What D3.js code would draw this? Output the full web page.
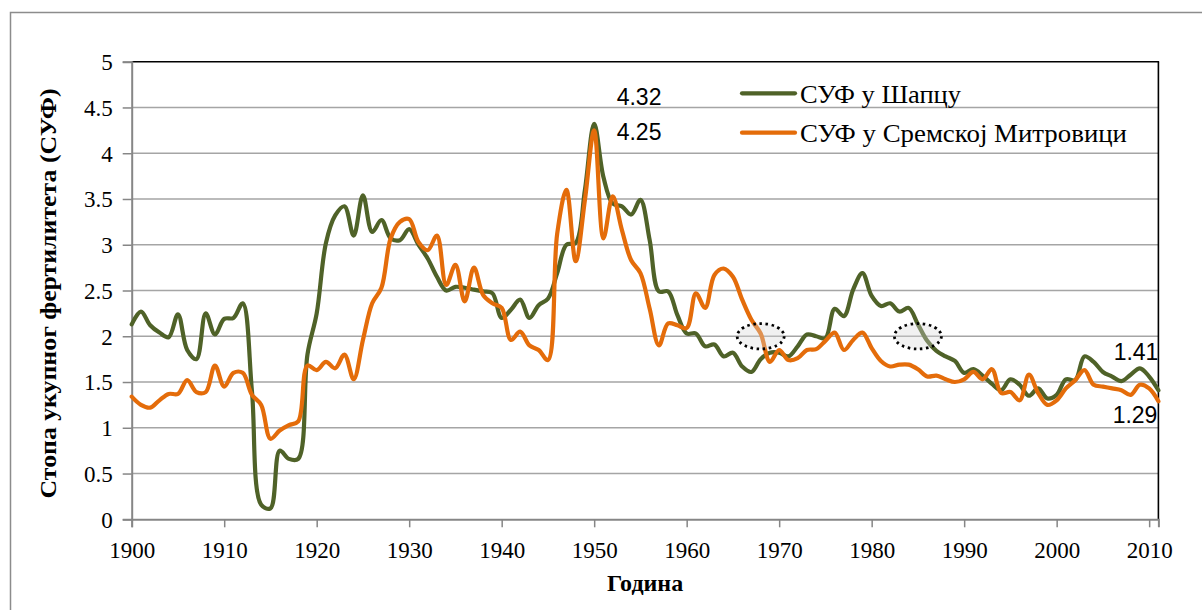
<!DOCTYPE html>
<html>
<head>
<meta charset="utf-8">
<script src="https://cdn.jsdelivr.net/npm/d3@7"></script>
<style>
  html, body { margin: 0; padding: 0; background: #ffffff; }
  svg { display: block; }
</style>
</head>
<body>
<svg id="chart" width="1202" height="610"></svg>
<script>
// ---------------- DATA ----------------
const years = [1900,1901,1902,1903,1904,1905,1906,1907,1908,1909,
  1910,1911,1912,1913,1914,1915,1916,1917,1918,1919,
  1920,1921,1922,1923,1924,1925,1926,1927,1928,1929,
  1930,1931,1932,1933,1934,1935,1936,1937,1938,1939,
  1940,1941,1942,1943,1944,1945,1946,1947,1948,1949,
  1950,1951,1952,1953,1954,1955,1956,1957,1958,1959,
  1960,1961,1962,1963,1964,1965,1966,1967,1968,1969,
  1970,1971,1972,1973,1974,1975,1976,1977,1978,1979,
  1980,1981,1982,1983,1984,1985,1986,1987,1988,1989,
  1990,1991,1992,1993,1994,1995,1996,1997,1998,1999,
  2000,2001,2002,2003,2004,2005,2006,2007,2008,2009,
  2010,2011];

// СУФ у Шапцу
const sufSabac = [2.13,2.27,2.12,2.04,1.99,2.24,1.85,1.75,2.25,2.02,
  2.19,2.20,2.36,1.40,0.16,0.12,0.75,0.66,0.66,1.80,
  2.25,3.02,3.32,3.42,3.10,3.54,3.14,3.27,3.07,3.05,
  3.17,3.00,2.85,2.65,2.50,2.54,2.53,2.51,2.49,2.47,
  2.20,2.29,2.40,2.20,2.34,2.41,2.69,3.00,3.02,3.60,
  4.32,3.74,3.45,3.42,3.33,3.49,3.05,2.49,2.49,2.23,
  2.03,2.03,1.89,1.91,1.78,1.82,1.67,1.61,1.75,1.82,
  1.82,1.78,1.89,2.02,2.00,1.98,2.30,2.22,2.51,2.69,
  2.44,2.33,2.36,2.27,2.31,2.13,1.95,1.84,1.78,1.73,
  1.60,1.64,1.57,1.48,1.41,1.53,1.47,1.35,1.43,1.32,
  1.36,1.53,1.52,1.78,1.72,1.61,1.56,1.51,1.58,1.65,
  1.56,1.41];

// СУФ у Сремској Митровици
const sufSremska = [1.34,1.25,1.22,1.30,1.37,1.37,1.52,1.39,1.39,1.68,
  1.45,1.60,1.60,1.36,1.25,0.88,0.97,1.03,1.07,1.68,
  1.63,1.72,1.65,1.80,1.53,1.96,2.36,2.53,3.07,3.25,
  3.28,3.03,2.94,3.10,2.56,2.78,2.38,2.75,2.45,2.36,
  2.31,1.96,2.05,1.90,1.85,1.74,3.12,3.60,2.82,3.49,
  4.25,3.07,3.53,3.16,2.83,2.69,2.30,1.90,2.14,2.12,
  2.09,2.47,2.31,2.67,2.74,2.65,2.40,2.18,2.03,1.72,
  1.85,1.74,1.76,1.85,1.86,1.95,2.04,1.85,1.96,2.04,
  1.87,1.73,1.67,1.69,1.69,1.64,1.56,1.57,1.53,1.50,
  1.53,1.61,1.53,1.64,1.38,1.39,1.30,1.58,1.38,1.25,
  1.30,1.43,1.52,1.63,1.47,1.45,1.43,1.41,1.36,1.47,
  1.43,1.29];

const seriesNames = ["СУФ у Шапцу", "СУФ у Сремској Митровици"];
const yTickValues = [0, 0.5, 1, 1.5, 2, 2.5, 3, 3.5, 4, 4.5, 5];
const yTickLabels = ["0", "0.5", "1", "1.5", "2", "2.5", "3", "3.5", "4", "4.5", "5"];
const xTickValues = [1900, 1910, 1920, 1930, 1940, 1950, 1960, 1970, 1980, 1990, 2000, 2010];
const xTickLabels = ["1900", "1910", "1920", "1930", "1940", "1950", "1960", "1970", "1980", "1990", "2000", "2010"];
const yTitle = "Стопа укупног фертилитета (СУФ)";
const xTitle = "Година";

// value annotations
const annoYears = [1950, 1950, 2011, 2011];
const annoValues = [4.32, 4.25, 1.41, 1.29];
const annoTexts = ["4.32", "4.25", "1.41", "1.29"];
// highlighted points (dotted ellipses)
const markYears = [1968, 1985];
const markValues = [2.0, 2.0];

// ---------------- STYLE / LAYOUT ----------------
const colors = ["#4F6228", "#E46C0A"];
const plot = { left: 131.7, right: 1158.4, top: 61.7, bottom: 519.3 };
const serif = "'Liberation Serif', 'Times New Roman', serif";
const sans = "'Liberation Sans', Arial, sans-serif";

const svg = d3.select("#chart");
svg.append("rect").attr("x", 0).attr("y", 0).attr("width", 1202).attr("height", 610).attr("fill", "#fff");

// outer chart border
svg.append("rect")
  .attr("x", 10.5).attr("y", 12.5).attr("width", 1220).attr("height", 620)
  .attr("fill", "none").attr("stroke", "#8c8c8c").attr("stroke-width", 1.5);

const x = d3.scaleLinear().domain([1900, 2011]).range([plot.left, plot.right]);
const y = d3.scaleLinear().domain([0, 5]).range([plot.bottom, plot.top]);

// gridlines
svg.append("g").selectAll("line").data(yTickValues.filter(v => v > 0 && v < 5)).join("line")
  .attr("x1", plot.left).attr("x2", plot.right)
  .attr("y1", d => y(d)).attr("y2", d => y(d))
  .attr("stroke", "#a5a5a5").attr("stroke-width", 1.5);

// plot area border: top & right black
svg.append("line").attr("x1", plot.left).attr("x2", plot.right + 0.7)
  .attr("y1", y(5)).attr("y2", y(5)).attr("stroke", "#000").attr("stroke-width", 1.6);
svg.append("line").attr("x1", plot.right).attr("x2", plot.right)
  .attr("y1", y(5)).attr("y2", plot.bottom).attr("stroke", "#000").attr("stroke-width", 1.6);

// Y axis
const yAxis = d3.axisLeft(y).tickValues(yTickValues)
  .tickFormat((d, i) => yTickLabels[i]).tickSize(9).tickPadding(10);
const gy = svg.append("g").attr("transform", `translate(${plot.left},0)`).call(yAxis);
gy.select(".domain").attr("stroke", "#868686").attr("stroke-width", 2);
gy.selectAll(".tick line").attr("stroke", "#868686").attr("stroke-width", 1.5);
gy.selectAll(".tick text").attr("font-family", serif).attr("font-size", 23).attr("fill", "#000")
  .attr("dy", "0.34em");

// X axis
const xAxis = d3.axisBottom(x).tickValues(xTickValues)
  .tickFormat((d, i) => xTickLabels[i]).tickSize(8).tickPadding(14);
const gx = svg.append("g").attr("transform", `translate(0,${plot.bottom})`).call(xAxis);
gx.select(".domain").attr("stroke", "#868686").attr("stroke-width", 2);
gx.selectAll(".tick line").attr("stroke", "#868686").attr("stroke-width", 1.5);
gx.selectAll(".tick text").attr("font-family", serif).attr("font-size", 23).attr("fill", "#000");

// axis titles
svg.append("text")
  .attr("transform", `translate(56,${(plot.top + plot.bottom) / 2 + 3}) rotate(-90)`)
  .attr("text-anchor", "middle")
  .attr("font-family", serif).attr("font-weight", "bold").attr("font-size", 24)
  .attr("textLength", 410).attr("lengthAdjust", "spacingAndGlyphs")
  .attr("fill", "#000").text(yTitle);
svg.append("text")
  .attr("x", (plot.left + plot.right) / 2).attr("y", 591)
  .attr("text-anchor", "middle")
  .attr("font-family", serif).attr("font-weight", "bold").attr("font-size", 24)
  .attr("fill", "#000").text(xTitle);

// lines
const line = d3.line().x((d, i) => x(years[i])).y(d => y(d)).curve(d3.curveCatmullRom.alpha(0.5));
[sufSabac, sufSremska].forEach((s, k) => {
  svg.append("path").datum(s)
    .attr("d", line)
    .attr("fill", "none").attr("stroke", colors[k]).attr("stroke-width", 4.2)
    .attr("stroke-linejoin", "round").attr("stroke-linecap", "round");
});

// dotted ellipses
svg.append("g").selectAll("ellipse").data(markYears).join("ellipse")
  .attr("cx", (d) => x(d)).attr("cy", (d, i) => y(markValues[i]))
  .attr("rx", 23.5).attr("ry", 12.7)
  .attr("fill", "rgba(215,215,215,0.35)")
  .attr("stroke", "#000").attr("stroke-width", 2.8)
  .attr("stroke-dasharray", "2.5,3.6");

// annotations
const annoDx = [22.5, 22.5, 0, -1];
const annoDy = [-19, 10, -30, 22];
const annoAnchor = ["start", "start", "end", "end"];
svg.append("g").selectAll("text").data(annoTexts).join("text")
  .attr("x", (d, i) => x(annoYears[i]) + annoDx[i])
  .attr("y", (d, i) => y(annoValues[i]) + annoDy[i])
  .attr("text-anchor", (d, i) => annoAnchor[i])
  .attr("font-family", sans).attr("font-size", 23).attr("fill", "#000")
  .text(d => d);

// legend
const legend = svg.append("g");
const legY = [93.3, 132.7];
const legLen = [161, 327];
seriesNames.forEach((name, k) => {
  legend.append("line").attr("x1", 742).attr("x2", 795)
    .attr("y1", legY[k]).attr("y2", legY[k])
    .attr("stroke", colors[k]).attr("stroke-width", 4.2).attr("stroke-linecap", "round");
  legend.append("text").attr("x", 800).attr("y", legY[k] + 9.5)
    .attr("font-family", serif).attr("font-size", 26).attr("fill", "#000")
    .attr("textLength", legLen[k]).attr("lengthAdjust", "spacingAndGlyphs")
    .text(name);
});
</script>
</body>
</html>
